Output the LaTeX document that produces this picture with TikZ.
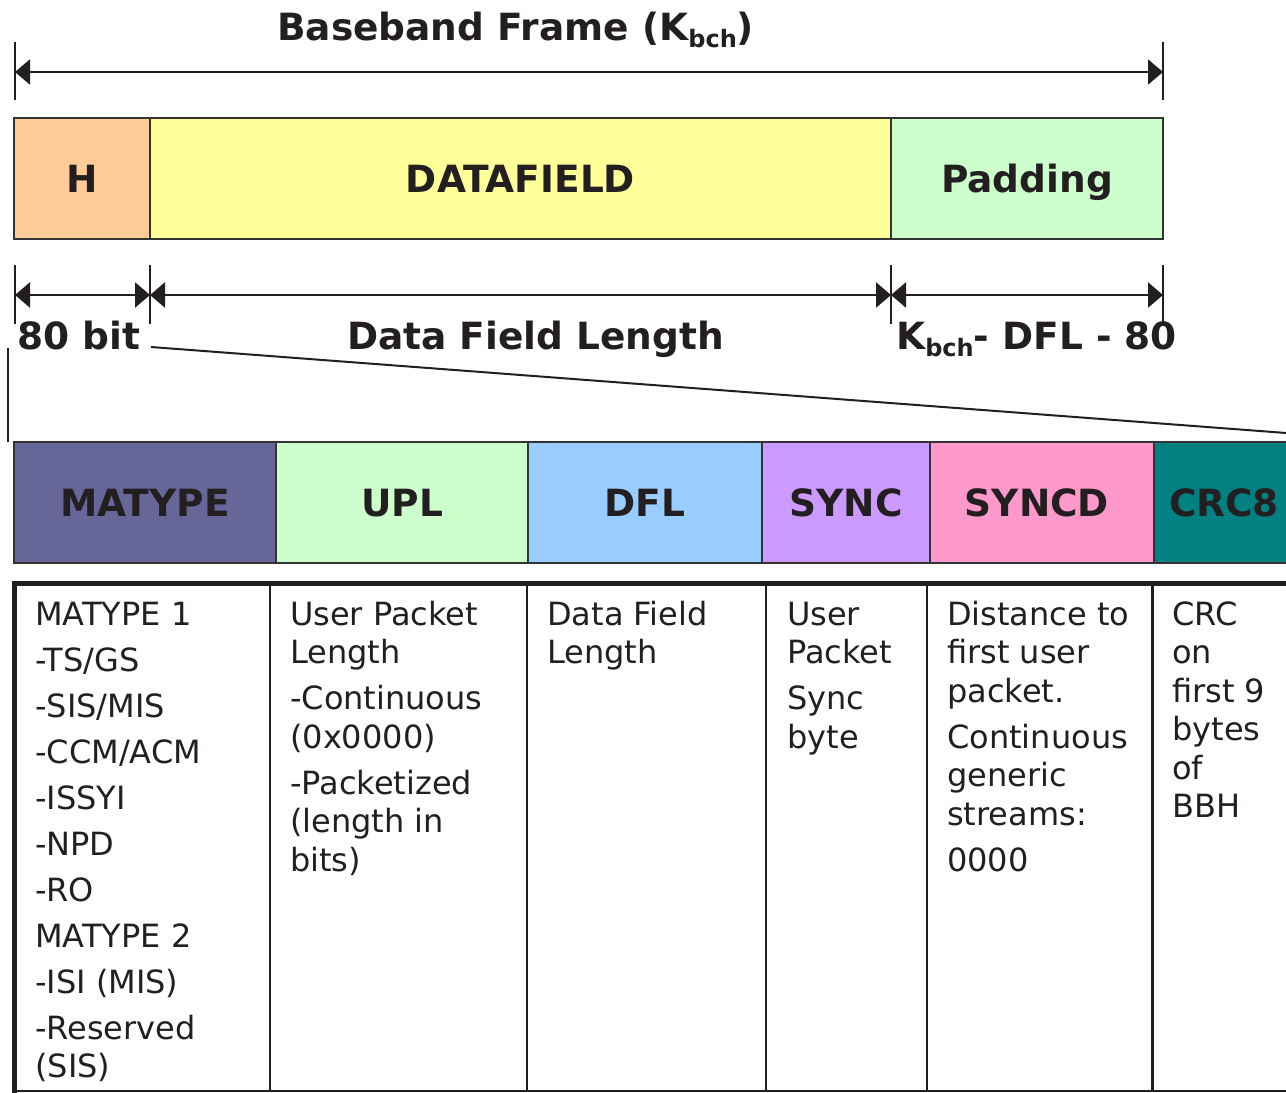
\documentclass[tikz,border=0pt]{standalone}
\usepackage{fontspec}
\setmainfont{DejaVu Sans}
\usetikzlibrary{arrows.meta}

\definecolor{ink}{HTML}{231F20}
\definecolor{edge}{HTML}{333333}
\definecolor{fillH}{HTML}{FFCC99}
\definecolor{fillData}{HTML}{FFFF99}
\definecolor{fillPad}{HTML}{CCFFCC}
\definecolor{fillMatype}{HTML}{666699}
\definecolor{fillUpl}{HTML}{CCFFCC}
\definecolor{fillDfl}{HTML}{99CCFF}
\definecolor{fillSync}{HTML}{CC99FF}
\definecolor{fillSyncd}{HTML}{FF99CC}
\definecolor{fillCrc}{HTML}{008080}

% lowered, smaller "bch" index
\newcommand{\subbch}{\raisebox{-7pt}{\fontsize{24}{24}\selectfont bch}}
% description text of one table column
\newcommand{\desctext}[1]{\parbox[t]{230pt}{\raggedright\fontsize{32}{38.5}\selectfont\setlength{\parskip}{7.5pt}#1}}

\begin{document}
\begin{tikzpicture}[x=1pt,y=-1pt,
  field/.style={draw=edge, line width=2pt, inner sep=0pt, minimum height=121pt,
    text height=27pt, text depth=0pt, text=ink, font=\bfseries\fontsize{37.5}{44}\selectfont},
  dimlabel/.style={inner sep=0pt, text=ink, font=\bfseries\fontsize{37.5}{44}\selectfont},
  tickline/.style={draw=ink, line width=2pt},
  dimline/.style={draw=ink, line width=2.5pt,
    {Triangle[length=15pt,width=25pt]}-{Triangle[length=15pt,width=25pt]}},
  zoomline/.style={draw=ink, line width=2pt},
  desc/.style={anchor=base west, inner sep=0pt, text=ink},
  gridline/.style={draw=ink, line width=2.5pt},
]
\useasboundingbox (0,0) rectangle (1286,1093);
\clip (0,0) rectangle (1286,1093);

% ---- overall frame length
\node[dimlabel, anchor=base west] (title) at (277,40) {Baseband Frame (K\subbch)};
\coordinate (a0) at (15,72);
\coordinate (a1) at (1163,72);
\draw[tickline] (15,42) -- (15,100);
\draw[tickline] (1163,42) -- (1163,100);
\draw[dimline] (a0) -- (a1);

% ---- baseband frame
\node[field, fill=fillH, minimum width=136pt] (H) at (82,178.5) {H};
\node[field, fill=fillData, minimum width=741pt] (DF) at (520.5,178.5) {DATAFIELD};
\node[field, fill=fillPad, minimum width=272pt] (PAD) at (1027,178.5) {Padding};

% ---- part lengths
\coordinate (d0) at (15,295);
\coordinate (d1) at (150,295);
\coordinate (d2) at (891,295);
\coordinate (d3) at (1163,295);
\foreach \x in {15,150,891,1163} {
  \draw[tickline] (\x,265) -- (\x,324);
}
\draw[dimline] (d0) -- (d1);
\draw[dimline] (d1) -- (d2);
\draw[dimline] (d2) -- (d3);
\node[dimlabel, anchor=base west] (l80) at (17,349) {80 bit};
\node[dimlabel, anchor=base] (ldfl) at (535.5,349) {Data Field Length};
\node[dimlabel, anchor=base west] (lpad) at (896,349) {K\subbch- DFL - 80};

% ---- expansion of the header
\coordinate (z0) at (8,348);
\coordinate (z1) at (8,442);
\coordinate (z2) at (151,347);
\coordinate (z3) at (1405,442);
\draw[zoomline] (z0) -- (z1);
\draw[zoomline] (z2) -- (z3);

% ---- header fields
\node[field, fill=fillMatype, minimum width=262pt] (MATYPE) at (145,502.5) {MATYPE};
\node[field, fill=fillUpl, minimum width=252pt] (UPL) at (402,502.5) {UPL};
\node[field, fill=fillDfl, minimum width=234pt] (DFL) at (645,502.5) {DFL};
\node[field, fill=fillSync, minimum width=168pt] (SYNC) at (846,502.5) {SYNC};
\node[field, fill=fillSyncd, minimum width=224pt] (SYNCD) at (1042,502.5) {\hspace*{-10pt}SYNCD};
\node[field, fill=fillCrc, minimum width=140pt] (CRC) at (1224,502.5) {CRC8};

% ---- description table
\draw[gridline, line width=5pt] (12,583.5) -- (1286,583.5);
\draw[gridline, line width=4.5pt] (14.5,581) -- (14.5,1093);
\draw[gridline] (12,1091) -- (1286,1091);
\foreach \x in {270,527,766,927} {
  \draw[gridline] (\x,583) -- (\x,1091);
}
\draw[gridline, line width=3pt] (1152,583) -- (1152,1091);

\node[desc] (tMatype) at (35,625) {\desctext{MATYPE 1\par -TS/GS\par -SIS/MIS\par -CCM/ACM\par -ISSYI\par -NPD\par -RO\par MATYPE 2\par -ISI (MIS)\par -Reserved\\(SIS)}};
\node[desc] (tUpl) at (290,625) {\desctext{User Packet\\Length\par -Continuous\\(0x0000)\par -Packetized\\(length in\\bits)}};
\node[desc] (tDfl) at (547,625) {\desctext{Data Field\\Length}};
\node[desc] (tSync) at (787,625) {\desctext{User\\Packet\par Sync\\byte}};
\node[desc] (tSyncd) at (947,625) {\desctext{Distance to\\first user\\packet.\par Continuous\\generic\\streams:\par 0000}};
\node[desc] (tCrc) at (1172,625) {\desctext{CRC\\on\\first 9\\bytes\\of\\BBH}};
\end{tikzpicture}
\end{document}
